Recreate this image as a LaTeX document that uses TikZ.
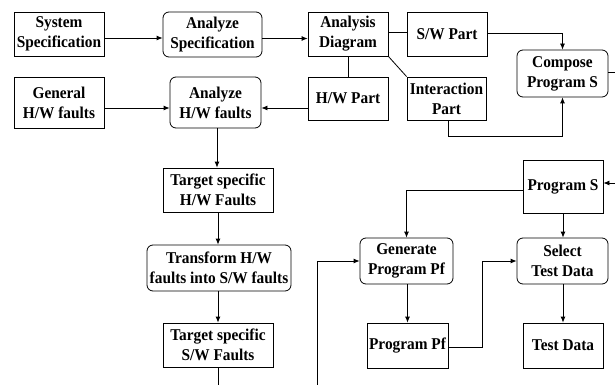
\documentclass[tikz,border=0pt]{standalone}
\usepackage{fontspec}
\setmainfont{Liberation Serif}[FakeStretch=0.93]
\usetikzlibrary{arrows.meta}
\begin{document}
\begin{tikzpicture}[x=1pt,y=-1pt,
  box/.style={draw, line width=0.8pt, align=center, inner sep=1pt,
    font=\fontsize{16.5}{20}\selectfont\bfseries},
  rbox/.style={box, rounded corners=6pt},
  ln/.style={line width=0.8pt},
  ar/.style={ln, -{Latex[length=6pt,width=5pt]}}]
\useasboundingbox (0,0) rectangle (615,385);
\node[box, minimum width=90pt, minimum height=44pt] (sys) at (59,34) {System\\Specification};
\node[rbox, minimum width=99pt, minimum height=45pt] (anspec) at (212.5,34.5) {Analyze\\Specification};
\node[box, minimum width=80pt, minimum height=44pt] (adiag) at (348,34) {Analysis\\Diagram};
\node[box, minimum width=80pt, minimum height=44pt] (swp) at (447,34) {S/W Part};
\node[rbox, minimum width=91pt, minimum height=47pt] (comp) at (562.5,73.5) {Compose\\Program S};
\node[box, minimum width=80pt, minimum height=43pt] (hwp) at (348,98.5) {H/W Part};
\node[box, minimum width=79pt, minimum height=43pt] (inter) at (446.5,98.5) {Interaction\\Part};
\node[box, minimum width=90pt, minimum height=51pt] (gen) at (59,102.5) {General\\H/W faults};
\node[rbox, minimum width=91pt, minimum height=51pt] (anhw) at (215.5,102.5) {Analyze\\H/W faults};
\node[box, minimum width=110pt, minimum height=44pt] (tshw) at (218,190) {Target specific\\H/W Faults};
\node[rbox, minimum width=144pt, minimum height=46pt] (trans) at (219,268) {Transform H/W\\faults into S/W faults};
\node[box, minimum width=110pt, minimum height=44pt] (tssw) at (218,345) {Target specific\\S/W Faults};
\node[rbox, minimum width=93pt, minimum height=46pt] (genpf) at (406.5,261) {Generate\\Program Pf};
\node[box, minimum width=80pt, minimum height=53pt] (progs) at (563,186.5) {Program S};
\node[rbox, minimum width=91pt, minimum height=46pt] (sel) at (562.5,261) {Select\\Test Data};
\node[box, minimum width=81pt, minimum height=45pt] (progpf) at (407.5,345.5) {Program Pf};
\node[box, minimum width=80pt, minimum height=45pt] (td) at (563,345.5) {Test Data};
\coordinate (bl) at (218,385);
\coordinate (bm) at (317,385);
\coordinate (rin) at (615,183);
\coordinate (rout) at (615,72);
\coordinate (ibot) at (448,136);
\coordinate (pfr) at (482,347);
% connectors
\draw[ar] ([yshift=-4pt]sys.east) -- ([yshift=-4pt]sys.east -| anspec.west);
\draw[ar] ([yshift=-4pt]anspec.east) -- ([yshift=-4pt]anspec.east -| adiag.west);
\draw[ln] ([yshift=2pt]adiag.east) -- ([yshift=2pt]adiag.east -| swp.west);
\draw[ar] ([yshift=1pt]swp.east) -| (comp.north);
\draw[ln] (adiag.south) -- (hwp.north);
\draw[ln] (adiag.south east) -- (inter.north west);
\draw[ar] (inter.south -| ibot) -- (ibot) -| (comp.south);
\draw[ar] ([yshift=-9.5pt]hwp.west) -- ([yshift=-9.5pt]hwp.west -| anhw.east);
\draw[ar] ([yshift=-5.5pt]gen.east) -- ([yshift=-5.5pt]gen.east -| anhw.west);
\draw[ar] ([xshift=1.5pt]anhw.south) -- ([xshift=1.5pt]anhw.south |- tshw.north);
\draw[ar] (tshw.south) -- (tshw.south |- trans.north);
\draw[ar] (tssw.south |- trans.south) -- (tssw.north);
\draw[ln] (tssw.south) -- (bl);
\draw[ar] (bm) |- (genpf.west);
\draw[ar] ([yshift=-3.5pt]progs.west) -| (genpf.north);
\draw[ar] (rin) -- (rin -| progs.east);
\draw[ln] (comp.east |- rout) -- (rout);
\draw[ar] (progs.south) -- (progs.south |- sel.north);
\draw[ar] (genpf.south -| progpf.north) -- (progpf.north);
\draw[ar] (progpf.east |- pfr) -- (pfr) |- (sel.west);
\draw[ar] (sel.south -| td.north) -- (td.north);
\end{tikzpicture}
\end{document}
